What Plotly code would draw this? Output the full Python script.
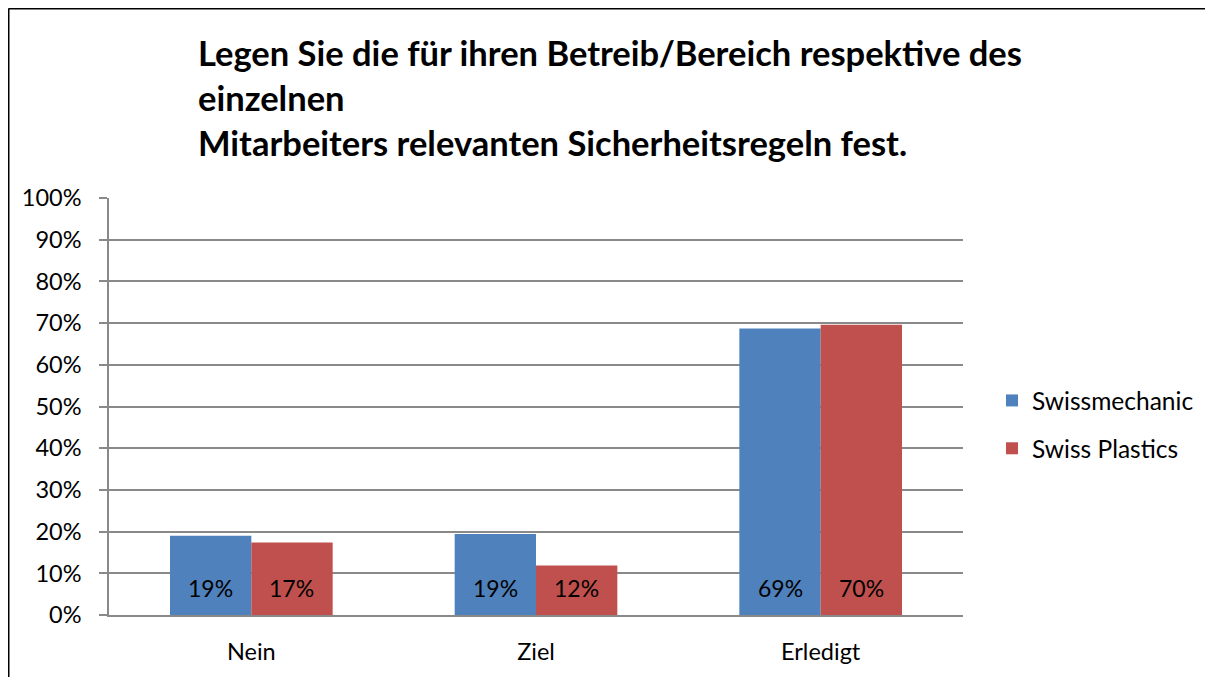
import plotly.graph_objects as go

kategorien = ["Nein", "Ziel", "Erledigt"]
swissmechanic = [0.19, 0.194, 0.687]
swiss_plastics = [0.174, 0.119, 0.696]
y_ticks = [0, 0.1, 0.2, 0.3, 0.4, 0.5, 0.6, 0.7, 0.8, 0.9, 1.0]

titel = ("<b>Legen Sie die für ihren Betreib/Bereich respektive des<br>"
         "einzelnen<br>"
         "Mitarbeiters relevanten Sicherheitsregeln fest.</b>")

# die Seite hat 8px Rand, daher alles um 8px verschoben
W, H = 1205, 669
L, R, T, B = 101, 955, 190, 607
bar_px = (R - L) / len(kategorien) / 3.5

def px_x(p):
    return (p - L) / (R - L)

def px_y(p):
    return (B - p) / (B - T)

fig = go.Figure()
serien = [("Swissmechanic", swissmechanic, "#4F81BD", "a", -1),
          ("Swiss Plastics", swiss_plastics, "#C0504D", "b", 1)]
for name, werte, farbe, grp, seite in serien:
    fig.add_trace(go.Bar(x=kategorien, y=werte, name=name, legendgroup=grp,
                         marker=dict(color=farbe, line=dict(width=0))))
    for k, v in zip(kategorien, werte):
        fig.add_annotation(x=k, y=0, xref="x", yref="y", text=f"{v:.0%}",
                           showarrow=False, xshift=seite * bar_px / 2, yshift=27,
                           font=dict(size=23, color="black"))

fig.add_annotation(text=titel, xref="paper", yref="paper", x=px_x(188), y=px_y(90),
                   xanchor="left", yanchor="middle", align="left", showarrow=False,
                   font=dict(size=34.5, color="black", family="Lato, sans-serif"))

fig.update_layout(
    width=W, height=H,
    margin=dict(l=L, r=W - R, t=T, b=H - B),
    paper_bgcolor="white", plot_bgcolor="white",
    font=dict(family="Lato, Carlito, sans-serif", size=23.5, color="black"),
    barmode="group", bargap=1.5 / 3.5, bargroupgap=0,
    showlegend=True,
    legend=dict(x=px_x(984), xanchor="left", y=px_y(416.5), yanchor="middle",
                tracegroupgap=13, font=dict(size=24.5), itemwidth=30),
)
fig.update_yaxes(range=[0, 1], tickvals=y_ticks, tickformat=".0%",
                 showgrid=True, gridcolor="#898989", gridwidth=1.5,
                 showline=True, linecolor="#898989", linewidth=1.5,
                 ticks="outside", ticklen=8, tickcolor="#898989", tickwidth=1.5,
                 ticklabelstandoff=13, zeroline=False)
fig.update_xaxes(showline=True, linecolor="#898989", linewidth=1.5, ticks="",
                 showgrid=False, ticklabelstandoff=15)

# Rahmen links und oben
fig.add_shape(type="line", xref="paper", yref="paper",
              x0=px_x(0.5), x1=px_x(0.5), y0=px_y(0.5), y1=px_y(H),
              line=dict(color="black", width=2))
fig.add_shape(type="line", xref="paper", yref="paper",
              x0=px_x(0.5), x1=px_x(W), y0=px_y(0.5), y1=px_y(0.5),
              line=dict(color="black", width=2))

fig.write_html("out.html")
